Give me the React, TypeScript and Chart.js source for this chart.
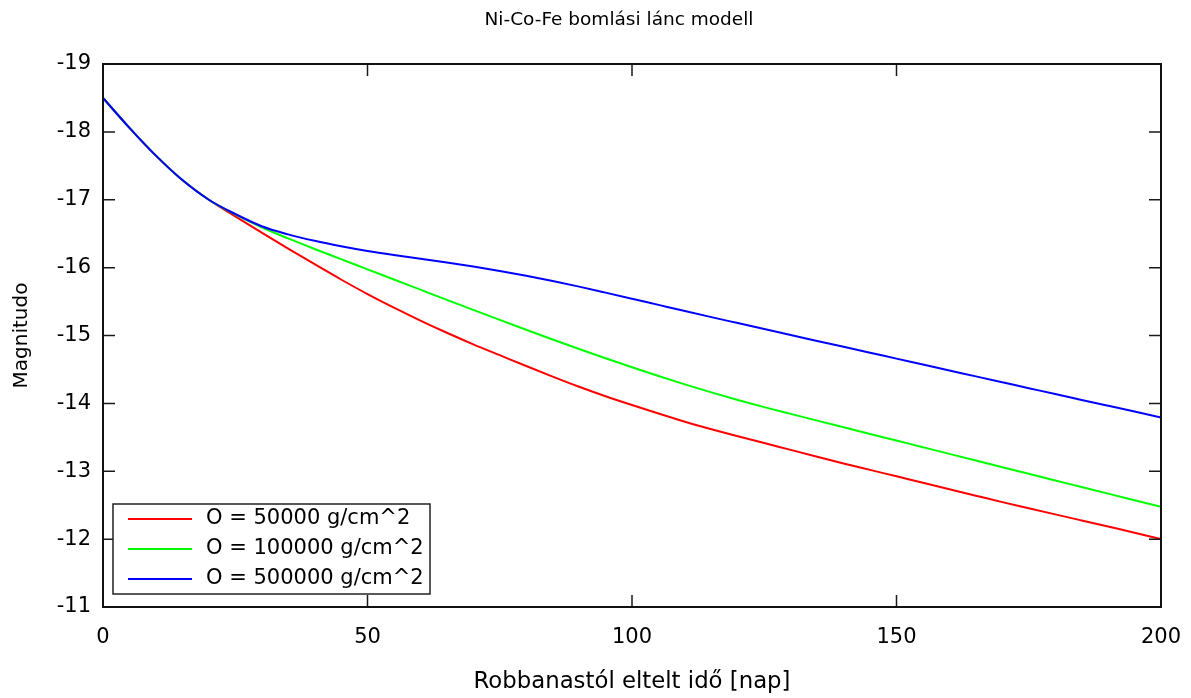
import React, { useEffect, useRef } from "react";
import { Chart, registerables } from "chart.js";

Chart.register(...registerables);

const chartTitle = "Ni-Co-Fe bomlási lánc modell";
const xAxisTitle = "Robbanastól eltelt idő [nap]";
const yAxisTitle = "Magnitudo";

const days = [
  0, 5, 10, 15, 20, 25, 30, 35, 40, 45, 50, 55, 60, 65, 70, 75, 80, 85, 90, 95,
  100, 105, 110, 115, 120, 125, 130, 135, 140, 145, 150, 155, 160, 165, 170, 175,
  180, 185, 190, 195, 200,
];

const seriesLabels = ["O = 50000 g/cm^2", "O = 100000 g/cm^2", "O = 500000 g/cm^2"];
const seriesColors = ["#ff0000", "#00ff00", "#0000ff"];

const mag50000 = [
  -18.5, -18.06, -17.65, -17.29, -17.0, -16.755, -16.515, -16.28, -16.05, -15.825,
  -15.61, -15.41, -15.22, -15.04, -14.87, -14.71, -14.55, -14.395, -14.245, -14.105,
  -13.975, -13.85, -13.73, -13.62, -13.515, -13.415, -13.315, -13.215, -13.115, -13.02,
  -12.925, -12.83, -12.735, -12.64, -12.545, -12.455, -12.365, -12.275, -12.185, -12.095, -12.0,
];

const mag100000 = [
  -18.5, -18.06, -17.65, -17.29, -17.0, -16.785, -16.595, -16.43, -16.275, -16.125,
  -15.975, -15.825, -15.675, -15.525, -15.377, -15.23, -15.085, -14.942, -14.802, -14.665,
  -14.532, -14.403, -14.28, -14.162, -14.05, -13.945, -13.845, -13.746, -13.648, -13.55,
  -13.452, -13.354, -13.256, -13.158, -13.06, -12.962, -12.864, -12.767, -12.67, -12.574, -12.478,
];

const mag500000 = [
  -18.5, -18.06, -17.65, -17.29, -17.0, -16.79, -16.61, -16.49, -16.395, -16.315,
  -16.245, -16.185, -16.13, -16.075, -16.015, -15.95, -15.88, -15.803, -15.72, -15.632,
  -15.542, -15.451, -15.36, -15.271, -15.183, -15.095, -15.007, -14.92, -14.833, -14.746,
  -14.659, -14.572, -14.485, -14.398, -14.311, -14.224, -14.137, -14.051, -13.965, -13.879, -13.793,
];

const seriesValues = [mag50000, mag100000, mag500000];

const FONT = "'DejaVu Sans', Verdana, sans-serif";

const framePlugin = {
  id: "gnuplotFrame",
  afterDatasetsDraw(chart: any) {
    const { ctx, chartArea } = chart;
    const { left, right, top, bottom } = chartArea;
    const tickLen = 12;
    ctx.save();
    ctx.strokeStyle = "#1a1a1a";
    ctx.lineWidth = 1.5;
    const xs = chart.scales.x;
    const ys = chart.scales.y;
    ctx.beginPath();
    xs.ticks.forEach((t: any) => {
      const px = xs.getPixelForValue(t.value);
      ctx.moveTo(px, bottom);
      ctx.lineTo(px, bottom - tickLen);
      ctx.moveTo(px, top);
      ctx.lineTo(px, top + tickLen);
    });
    ys.ticks.forEach((t: any) => {
      const py = ys.getPixelForValue(t.value);
      ctx.moveTo(left, py);
      ctx.lineTo(left + tickLen, py);
      ctx.moveTo(right, py);
      ctx.lineTo(right - tickLen, py);
    });
    ctx.stroke();
    ctx.lineWidth = 2;
    ctx.strokeStyle = "#111";
    ctx.strokeRect(left, top, right - left, bottom - top);
    ctx.restore();
  },
  afterDraw(chart: any) {
    const { ctx } = chart;
    ctx.save();
    // main title
    ctx.fillStyle = "#000";
    ctx.font = `18.5px ${FONT}`;
    ctx.textAlign = "center";
    ctx.textBaseline = "middle";
    ctx.fillText(chartTitle, 619, 20);

    // legend box
    const bx = 113, by = 504, bw = 317, bh = 90;
    ctx.fillStyle = "#fff";
    ctx.fillRect(bx, by, bw, bh);
    ctx.strokeStyle = "#222";
    ctx.lineWidth = 1.5;
    ctx.strokeRect(bx, by, bw, bh);
    ctx.font = `21px ${FONT}`;
    ctx.textAlign = "left";
    ctx.textBaseline = "middle";
    chart.data.datasets.forEach((ds: any, i: number) => {
      const y = 519 + i * 30;
      ctx.strokeStyle = ds.borderColor;
      ctx.lineWidth = 2;
      ctx.beginPath();
      ctx.moveTo(128, y);
      ctx.lineTo(192, y);
      ctx.stroke();
      ctx.fillStyle = "#000";
      ctx.fillText(ds.label, 206, y);
    });
    ctx.restore();
  },
};

export default function App() {
  const canvasRef = useRef<HTMLCanvasElement | null>(null);

  useEffect(() => {
    if (!canvasRef.current) return;
    const chart = new Chart(canvasRef.current, {
      type: "line",
      data: {
        datasets: seriesValues.map((vals, i) => ({
          label: seriesLabels[i],
          data: days.map((d, j) => ({ x: d, y: vals[j] })),
          borderColor: seriesColors[i],
          backgroundColor: seriesColors[i],
          borderWidth: 2,
          pointRadius: 0,
          cubicInterpolationMode: "monotone" as const,
          fill: false,
          order: seriesValues.length - 1 - i,
        })),
      },
      options: {
        animation: false,
        responsive: false,
        devicePixelRatio: 1,
        layout: { padding: { left: 0, top: 64, right: 30, bottom: 0 } },
        plugins: {
          legend: { display: false },
          tooltip: { enabled: false },
          title: { display: false },
        },
        scales: {
          x: {
            type: "linear",
            min: 0,
            max: 200,
            grid: { display: false, drawTicks: false },
            border: { display: false },
            ticks: {
              stepSize: 50,
              color: "#000",
              padding: 18,
              maxRotation: 0,
              font: { family: FONT, size: 21 },
            },
            title: {
              display: true,
              text: xAxisTitle,
              color: "#000",
              font: { family: FONT, size: 22.8 },
              padding: { top: 0, bottom: 2 },
            },
            afterFit(scale: any) {
              scale.height = 91;
              scale.paddingLeft = 0;
              scale.paddingRight = 0;
            },
          },
          y: {
            type: "linear",
            min: -19,
            max: -11,
            reverse: true,
            grid: { display: false, drawTicks: false },
            border: { display: false },
            ticks: {
              stepSize: 1,
              color: "#000",
              padding: 12,
              font: { family: FONT, size: 21 },
            },
            title: {
              display: true,
              text: yAxisTitle,
              color: "#000",
              font: { family: FONT, size: 20 },
              padding: { top: 10, bottom: 0 },
            },
            afterFit(scale: any) {
              scale.width = 103;
              scale.paddingTop = 0;
              scale.paddingBottom = 0;
            },
          },
        },
      },
      plugins: [framePlugin],
    });
    return () => chart.destroy();
  }, []);

  return (
    <div style={{ position: "absolute", left: 0, top: 0, width: 1191, height: 698, background: "#fff" }}>
      <canvas ref={canvasRef} width={1191} height={698} />
    </div>
  );
}
